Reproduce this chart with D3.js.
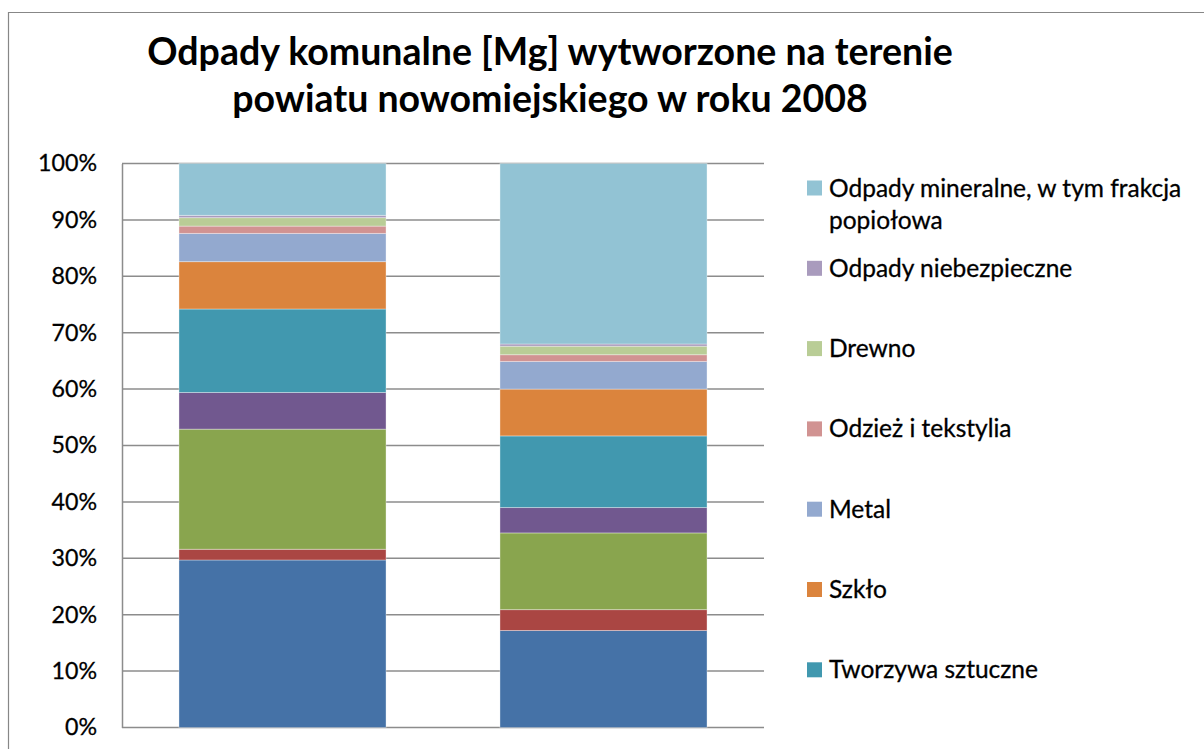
<!DOCTYPE html>
<html>
<head>
<meta charset="utf-8">
<script src="https://cdn.jsdelivr.net/npm/d3@7"></script>
<style>
  body { margin: 0; background: #fff; }
  svg { display: block; font-family: Lato, sans-serif; }
</style>
</head>
<body>
<div id="chart"></div>
<script>
// column keys (axis labels are outside the visible picture)
const categories = ['kol1', 'kol2'];

// series, bottom of the stack first
const seriesNames = [
  'Odpady kuchenne ulegające biodegradacji',
  'Odpady zielone',
  'Papier i tektura',
  'Opakowania wielomateriałowe',
  'Tworzywa sztuczne',
  'Szkło',
  'Metal',
  'Odzież i tekstylia',
  'Drewno',
  'Odpady niebezpieczne',
  'Odpady mineralne, w tym frakcja popiołowa'
];

// shares, in %
const values1 = [29.7, 1.9, 21.3, 6.5, 14.8, 8.4, 5.0, 1.3, 1.5, 0.4, 9.2];
const values2 = [17.2, 3.7, 13.6, 4.5, 12.7, 8.3, 4.9, 1.2, 1.5, 0.4, 32.0];

const colors = ['#4572a7', '#aa4643', '#89a54e', '#71588f', '#4198af', '#db843d',
                '#93a9cf', '#d19392', '#b9cd96', '#a99bbd', '#92c3d4'];

const yTicks = [0, 0.1, 0.2, 0.3, 0.4, 0.5, 0.6, 0.7, 0.8, 0.9, 1];
const titleLines = ['Odpady komunalne [Mg] wytworzone na terenie', 'powiatu nowomiejskiego w roku 2008'];

const W = 1204, H = 749;
const plot = {left: 122, right: 764, top: 163.5, bottom: 727.5};

const svg = d3.select('#chart').append('svg')
  .attr('width', W)
  .attr('height', H);

// chart area border (only top and left edges are inside the picture)
svg.append('path')
  .attr('d', 'M8.5,' + H + 'V12.5H' + W)
  .attr('fill', 'none')
  .attr('stroke', '#878787')
  .attr('stroke-width', 1.2);

// title
svg.append('text')
  .attr('text-anchor', 'middle')
  .attr('font-weight', 'bold')
  .attr('font-size', 37.5)
  .attr('fill', '#000')
  .selectAll('tspan')
  .data(titleLines)
  .enter()
  .append('tspan')
  .attr('x', 550)
  .attr('y', (d, i) => 65 + i * 47)
  .text(d => d);

// data table for the stack
const table = categories.map((c, i) => {
  const row = {cat: c};
  seriesNames.forEach((s, j) => { row[s] = (i === 0 ? values1 : values2)[j]; });
  return row;
});

const stacked = d3.stack()
  .keys(seriesNames)
  .offset(d3.stackOffsetExpand)(table);

const x = d3.scaleBand()
  .domain(categories)
  .range([plot.left, plot.right])
  .paddingInner(0.355)
  .paddingOuter(0.1775);

const y = d3.scaleLinear()
  .domain([0, 1])
  .range([plot.bottom, plot.top]);

const color = d3.scaleOrdinal().domain(seriesNames).range(colors);

// gridlines
svg.append('g')
  .selectAll('line')
  .data(yTicks)
  .enter()
  .append('line')
  .attr('x1', plot.left)
  .attr('x2', plot.right)
  .attr('y1', d => y(d))
  .attr('y2', d => y(d))
  .attr('stroke', '#8c8c8c')
  .attr('stroke-width', 1.5);

// y axis
const yAxis = svg.append('g')
  .attr('transform', 'translate(' + plot.left + ',0)')
  .call(d3.axisLeft(y).tickValues(yTicks).tickFormat(d3.format('.0%')).tickSize(0).tickPadding(25));
yAxis.select('.domain').attr('stroke', '#8c8c8c').attr('stroke-width', 1.5);
yAxis.selectAll('text')
  .attr('font-family', 'Lato, sans-serif')
  .attr('font-size', 23.2)
  .attr('fill', '#000')
  .attr('stroke', '#000')
  .attr('stroke-width', 0.3);

// bars
svg.append('g')
  .selectAll('g')
  .data(stacked)
  .enter()
  .append('g')
  .attr('fill', d => color(d.key))
  .selectAll('rect')
  .data(d => d)
  .enter()
  .append('rect')
  .attr('x', d => x(d.data.cat))
  .attr('width', x.bandwidth())
  .attr('y', d => y(d[1]))
  .attr('height', d => y(d[0]) - y(d[1]))
  .attr('stroke', 'rgba(255,255,255,0.35)')
  .attr('stroke-width', 1);

// legend, top series first; entries beyond the picture are left out
const legendItems = seriesNames.slice().reverse()
  .map((s, i) => ({name: s, cy: 188 + i * 80.3}))
  .filter(d => d.cy + 12 < H);

const legend = svg.append('g')
  .selectAll('g')
  .data(legendItems)
  .enter()
  .append('g')
  .attr('transform', d => 'translate(807,' + d.cy + ')');

legend.append('rect')
  .attr('x', 0)
  .attr('y', -7.5)
  .attr('width', 15)
  .attr('height', 15)
  .attr('fill', d => color(d.name));

legend.each(function (d) {
  const t = d3.select(this).append('text')
    .attr('x', 22)
    .attr('y', 8.5)
    .attr('font-size', 24.5)
    .attr('fill', '#000')
    .attr('stroke', '#000')
    .attr('stroke-width', 0.3);
  // simple word wrap
  const words = d.name.split(' ');
  let line = [];
  let tspan = t.append('tspan').attr('x', 22).attr('dy', 0);
  words.forEach(w => {
    line.push(w);
    tspan.text(line.join(' '));
    if (tspan.node().getComputedTextLength() > 370 && line.length > 1) {
      line.pop();
      tspan.text(line.join(' '));
      line = [w];
      tspan = t.append('tspan').attr('x', 22).attr('dy', 32).text(w);
    }
  });
});
</script>
</body>
</html>
